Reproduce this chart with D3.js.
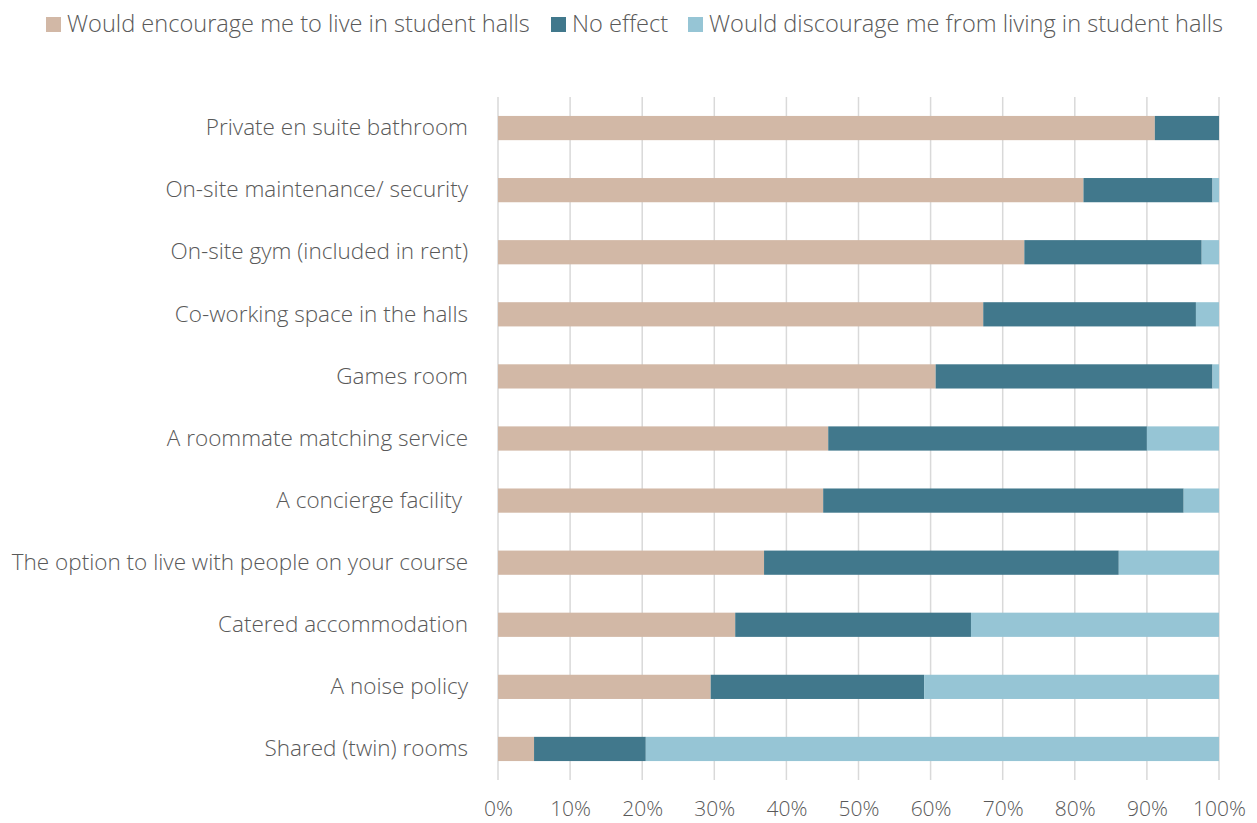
<!DOCTYPE html>
<html>
<head>
<meta charset="utf-8">
<script src="https://cdn.jsdelivr.net/npm/d3@7"></script>
<style>
  body { margin: 0; background: #fff; }
  text { font-family: "Open Sans", Lato, sans-serif; font-weight: 300; fill: #595959; }
</style>
</head>
<body>
<div id="chart"></div>
<script>
const categories = [
    'Private en suite bathroom',
    'On-site maintenance/ security',
    'On-site gym (included in rent)',
    'Co-working space in the halls',
    'Games room',
    'A roommate matching service',
    'A concierge facility ',
    'The option to live with people on your course',
    'Catered accommodation',
    'A noise policy',
    'Shared (twin) rooms'
];
const encourage  = [91.1, 81.2, 73.0, 67.3, 60.7, 45.8, 45.1, 36.9, 32.9, 29.5, 5.0];
const noEffect   = [8.9, 17.9, 24.6, 29.5, 38.4, 44.2, 50.0, 49.2, 32.7, 29.6, 15.5];
const discourage = [0.0, 0.9, 2.4, 3.2, 0.9, 10.0, 4.9, 13.9, 34.4, 40.9, 79.5];
const seriesNames = ['Would encourage me to live in student halls', 'No effect', 'Would discourage me from living in student halls'];
const colors = ['#d2b8a6', '#41788c', '#96c5d5'];
const xTicks = [0, 10, 20, 30, 40, 50, 60, 70, 80, 90, 100];

const width = 1257, height = 823;
const margin = { left: 498, right: 38, top: 97, bottom: 43 };

const svg = d3.select('#chart').append('svg')
    .attr('width', width)
    .attr('height', height);

const x = d3.scaleLinear().domain([0, 100]).range([margin.left, width - margin.right]);
const y = d3.scaleBand().domain(categories)
    .range([margin.top, height - margin.bottom])
    .paddingInner(0.61)
    .paddingOuter(0.305);

// table for stacking
const rows = categories.map((c, i) => ({ cat: c, s0: encourage[i], s1: noEffect[i], s2: discourage[i] }));
const stacked = d3.stack().keys(['s0', 's1', 's2'])(rows);

// gridlines
svg.append('g')
    .selectAll('line')
    .data(xTicks)
    .enter().append('line')
    .attr('x1', d => x(d))
    .attr('x2', d => x(d))
    .attr('y1', margin.top)
    .attr('y2', height - margin.bottom)
    .attr('stroke', '#d9d9d9')
    .attr('stroke-width', 1.5);

// bars
svg.append('g')
    .selectAll('g')
    .data(stacked)
    .enter().append('g')
    .attr('fill', (d, i) => colors[i])
    .selectAll('rect')
    .data(d => d)
    .enter().append('rect')
    .attr('x', d => x(d[0]))
    .attr('y', d => y(d.data.cat))
    .attr('width', d => x(d[1]) - x(d[0]))
    .attr('height', y.bandwidth());

// x axis labels
const xAxis = svg.append('g')
    .attr('transform', `translate(0,${height - margin.bottom})`)
    .call(d3.axisBottom(x).tickValues(xTicks).tickFormat(d => d + '%').tickSize(0).tickPadding(21));
xAxis.select('.domain').remove();
xAxis.selectAll('text').attr('font-size', 21).attr('font-family', null).attr('fill', null);

// y axis labels
const yAxis = svg.append('g')
    .attr('transform', `translate(${margin.left},0)`)
    .call(d3.axisLeft(y).tickSize(0).tickPadding(30));
yAxis.select('.domain').remove();
yAxis.selectAll('text').attr('font-size', 22.5).attr('font-family', null).attr('fill', null)
    .style('white-space', 'pre');

// legend
const legendX = [46, 551, 688];
const legend = svg.append('g');
seriesNames.forEach((name, i) => {
    legend.append('rect')
        .attr('x', legendX[i]).attr('y', 17)
        .attr('width', 15).attr('height', 15)
        .attr('fill', colors[i]);
    legend.append('text')
        .attr('x', legendX[i] + 21).attr('y', 24)
        .attr('dy', '0.35em')
        .attr('font-size', 23.6)
        .text(name);
});
</script>
</body>
</html>
